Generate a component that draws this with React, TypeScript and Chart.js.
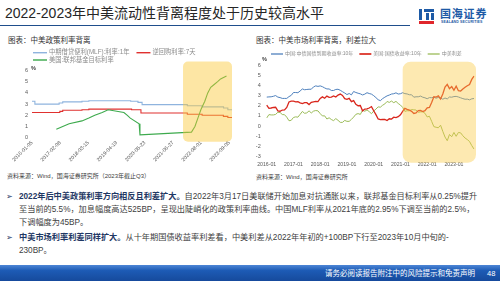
import React, { useEffect, useRef } from "react";
import { Chart, registerables } from "chart.js";

Chart.register(...registerables);

const FONT = '"Liberation Sans", "Noto Sans CJK SC", sans-serif';
Chart.defaults.font.family = FONT;

// ---------- Left chart: policy rates (change dates + new values) ----------
const LEFT_NAMES = ["中期借贷便利(MLF):利率:1年", "逆回购利率:7天", "美国:联邦基金目标利率"];
const MLF_DATES = ["2016-01-05", "2016-02-15", "2017-01-24", "2017-03-16", "2017-12-14", "2018-03-22", "2019-11-05", "2020-02-17", "2020-04-15", "2022-01-17", "2022-08-15", "2023-06-15", "2023-08-15", "2023-10-13"];
const MLF_VALUES = [3.25, 3.0, 3.1, 3.2, 3.25, 3.3, 3.25, 3.15, 2.95, 2.85, 2.75, 2.65, 2.5, 2.5];
const REPO_DATES = ["2016-01-05", "2017-02-03", "2017-03-16", "2017-12-14", "2018-03-22", "2019-11-18", "2020-03-30", "2022-01-17", "2022-08-15", "2023-06-13", "2023-08-15", "2023-10-13"];
const REPO_VALUES = [2.25, 2.35, 2.45, 2.5, 2.55, 2.5, 2.2, 2.1, 2.0, 1.9, 1.8, 1.8];
const FED_DATES = ["2016-12-15", "2017-03-16", "2017-06-15", "2017-12-14", "2018-03-22", "2018-06-14", "2018-09-27", "2018-12-20", "2019-08-01", "2019-09-19", "2019-10-31", "2020-03-04", "2020-03-16", "2022-03-17", "2022-05-05", "2022-06-16", "2022-07-28", "2022-09-22", "2022-11-03", "2022-12-15", "2023-02-02", "2023-03-23", "2023-05-04", "2023-07-27"];
const FED_VALUES = [0.75, 1.0, 1.25, 1.5, 1.75, 2.0, 2.25, 2.5, 2.25, 2.0, 1.75, 1.25, 0.25, 0.5, 1.0, 1.75, 2.5, 3.25, 4.0, 4.5, 4.75, 5.0, 5.25, 5.5];
const LEFT_TICK_LABELS = ["2016-01-05", "2017-02-08", "2018-03-15", "2019-04-19", "2020-05-23", "2021-06-27", "2022-08-01", "2023-09-05"];
const LEFT_RANGE = ["2016-01-05", "2023-10-13"];
const LEFT_HIGHLIGHT = { from: "2021-11-17", to: "2023-10-13", top: 6.8, bottom: -0.36 };

// ---------- Right chart: market rates, monthly from 2016-01 ----------
const RIGHT_NAMES = ["中国:中债国债到期收益率:10年", "美国:国债收益率:10年", "中美利差"];
const RIGHT_START_YEAR = 2016;
const CN10Y = [
  2.85, 2.87, 2.88, 2.93, 3.0, 2.85, 2.8, 2.72, 2.72, 2.72, 2.9, 3.02,
  3.3, 3.3, 3.28, 3.45, 3.65, 3.57, 3.6, 3.62, 3.62, 3.85, 3.95, 3.9,
  3.95, 3.87, 3.75, 3.65, 3.65, 3.5, 3.5, 3.6, 3.62, 3.52, 3.38, 3.25,
  3.1, 3.2, 3.07, 3.4, 3.3, 3.23, 3.17, 3.06, 3.14, 3.28, 3.2, 3.14,
  2.99, 2.8, 2.59, 2.5, 2.7, 2.84, 2.97, 3.05, 3.15, 3.18, 3.27, 3.15,
  3.18, 3.28, 3.19, 3.16, 3.08, 3.08, 2.84, 2.88, 2.88, 2.95, 2.84, 2.78,
  2.69, 2.8, 2.79, 2.84, 2.74, 2.82, 2.76, 2.64, 2.76, 2.67, 2.86, 2.84,
  2.9, 2.92, 2.86, 2.78, 2.7, 2.64, 2.65, 2.58, 2.68, 2.71,
];
const US10Y = [
  2.05, 1.74, 1.78, 1.83, 1.85, 1.49, 1.46, 1.58, 1.6, 1.84, 2.37, 2.45,
  2.45, 2.39, 2.4, 2.29, 2.21, 2.31, 2.3, 2.12, 2.33, 2.38, 2.42, 2.4,
  2.72, 2.87, 2.74, 2.95, 2.83, 2.85, 2.96, 2.86, 3.05, 3.15, 3.01, 2.69,
  2.63, 2.73, 2.41, 2.51, 2.14, 2.0, 2.02, 1.5, 1.68, 1.69, 1.78, 1.92,
  1.51, 1.13, 0.7, 0.64, 0.65, 0.66, 0.55, 0.72, 0.69, 0.88, 0.84, 0.93,
  1.11, 1.44, 1.74, 1.65, 1.58, 1.45, 1.24, 1.3, 1.52, 1.55, 1.43, 1.52,
  1.79, 1.83, 2.32, 2.89, 2.85, 2.98, 2.67, 3.15, 3.83, 4.1, 3.68, 3.88,
  3.52, 3.92, 3.48, 3.44, 3.64, 3.81, 3.97, 4.09, 4.59, 4.9,
];
const SPREAD = [
  0.8, 1.13, 1.1, 1.1, 1.15, 1.36, 1.34, 1.14, 1.12, 0.88, 0.53, 0.57,
  0.85, 0.91, 0.88, 1.16, 1.44, 1.26, 1.3, 1.5, 1.29, 1.47, 1.53, 1.5,
  1.23, 1.0, 1.01, 0.7, 0.82, 0.65, 0.54, 0.74, 0.57, 0.37, 0.37, 0.56,
  0.47, 0.47, 0.66, 0.89, 1.16, 1.23, 1.15, 1.56, 1.46, 1.59, 1.42, 1.22,
  1.48, 1.67, 1.89, 1.86, 2.05, 2.18, 2.42, 2.33, 2.46, 2.3, 2.43, 2.22,
  2.07, 1.84, 1.45, 1.51, 1.5, 1.63, 1.6, 1.58, 1.36, 1.4, 1.41, 1.26,
  0.9, 0.97, 0.47, -0.05, -0.11, -0.16, 0.09, -0.51, -1.07, -1.43, -0.82, -1.04,
  -0.62, -1.0, -0.62, -0.66, -0.94, -1.17, -1.32, -1.51, -1.91, -2.25,
];
const MONTHS = CN10Y.map((_, i) => `${RIGHT_START_YEAR + Math.floor(i / 12)}-${String((i % 12) + 1).padStart(2, "0")}`);
const RIGHT_HIGHLIGHT = { from: "2021-02", to: "2023-10", top: 6.32, bottom: -3.59 };

const ts = (d: string) => Date.parse(d + "T00:00:00Z");
const pairs = (dates: string[], vals: number[]) => dates.map((d, i) => ({ x: ts(d), y: vals[i] }));

function highlightPlugin(getX: (c: any) => [number, number], top: number, bottom: number, color: string, radius: number, padR: number) {
  return {
    id: "hl",
    afterDatasetsDraw(chart: any) {
      const ctx = chart.ctx;
      const [x0, x1] = getX(chart);
      const ys = chart.scales.y;
      const l = x0;
      const r = x1 + padR;
      const t = ys.getPixelForValue(top);
      const b = ys.getPixelForValue(bottom);
      ctx.save();
      ctx.fillStyle = color;
      ctx.beginPath();
      if (ctx.roundRect) ctx.roundRect(l, t, r - l, b - t, radius);
      else ctx.rect(l, t, r - l, b - t);
      ctx.fill();
      ctx.restore();
    },
  };
}

function legendPlugin(rows: number[][], x: number, y: number, rowGap: number, lineLen: number, size: number, gap: number) {
  return {
    id: "miniLegend",
    afterDraw(chart: any) {
      const ctx = chart.ctx;
      ctx.save();
      ctx.font = `${size}px ${FONT}`;
      ctx.textBaseline = "middle";
      rows.forEach((row, ri) => {
        let cx = x;
        const cy = y + ri * rowGap;
        row.forEach((di) => {
          const ds = chart.data.datasets[di];
          ctx.strokeStyle = ds.borderColor;
          ctx.lineWidth = (ds.borderWidth || 1) * 1.3;
          ctx.beginPath();
          ctx.moveTo(cx, cy);
          ctx.lineTo(cx + lineLen, cy);
          ctx.stroke();
          cx += lineLen + 2;
          ctx.fillStyle = "#8c8c8c";
          ctx.fillText(ds.label, cx, cy);
          cx += ctx.measureText(ds.label).width + gap;
        });
      });
      ctx.restore();
    },
  };
}

function unitPlugin(x: number, y: number) {
  return {
    id: "unit",
    afterDraw(chart: any) {
      const ctx = chart.ctx;
      ctx.save();
      ctx.font = `bold 5.5px ${FONT}`;
      ctx.fillStyle = "#404040";
      ctx.textBaseline = "middle";
      ctx.fillText("%", x, y);
      ctx.restore();
    },
  };
}

const tickFont = { size: 5.5 };
const tickColor = "#595959";

function LeftChart() {
  const ref = useRef<HTMLCanvasElement>(null);
  useEffect(() => {
    const W = 245, H = 124, TOP = 46;
    const chart = new Chart(ref.current as HTMLCanvasElement, {
      type: "line",
      data: {
        datasets: [
          { label: LEFT_NAMES[0], data: pairs(MLF_DATES, MLF_VALUES), borderColor: "#8fb4de", borderWidth: 1.1, pointRadius: 0, stepped: "before", order: 2 },
          { label: LEFT_NAMES[1], data: pairs(REPO_DATES, REPO_VALUES), borderColor: "#e0312f", borderWidth: 1.1, pointRadius: 0, stepped: "before", order: 1 },
          { label: LEFT_NAMES[2], data: pairs(FED_DATES, FED_VALUES), borderColor: "#3daa4d", borderWidth: 1.1, pointRadius: 0, order: 0 },
        ] as any,
      },
      options: {
        responsive: false,
        animation: false,
        layout: { padding: { top: 70.5 - TOP, right: W - 232, left: 0, bottom: 0 } },
        plugins: { legend: { display: false }, tooltip: { enabled: false } },
        scales: {
          x: {
            type: "linear",
            min: ts(LEFT_RANGE[0]),
            max: ts(LEFT_RANGE[1]),
            afterBuildTicks: (s: any) => { s.ticks = LEFT_TICK_LABELS.map((d) => ({ value: ts(d) })); },
            afterFit: (s: any) => { s.height = H - (137.7 - TOP); },
            ticks: {
              autoSkip: false,
              minRotation: 45,
              maxRotation: 45,
              padding: 2,
              font: { size: 5.2 },
              color: tickColor,
              callback: (v: any) => new Date(v).toISOString().slice(0, 10),
            },
            grid: { display: false, drawTicks: false },
            border: { display: false },
          },
          y: {
            min: 0,
            max: 6,
            afterFit: (s: any) => { s.width = 32; },
            ticks: { stepSize: 1, font: tickFont, color: tickColor, padding: 4 },
            grid: { display: false, drawTicks: false },
            border: { display: false },
          },
        },
      } as any,
      plugins: [
        highlightPlugin((c) => [c.scales.x.getPixelForValue(ts(LEFT_HIGHLIGHT.from)), c.scales.x.getPixelForValue(ts(LEFT_HIGHLIGHT.to))], LEFT_HIGHLIGHT.top, LEFT_HIGHLIGHT.bottom, "rgba(251,199,53,0.45)", 5, 0),
        legendPlugin([[0, 1], [2]], 33, 52.7 - TOP, 7.3, 14, 6.3, 7),
        unitPlugin(31, 68 - TOP),
      ] as any,
    });
    return () => chart.destroy();
  }, []);
  return <canvas ref={ref} width={245} height={124} style={{ position: "absolute", left: 0, top: 46, width: 245, height: 124 }} />;
}

function RightChart() {
  const ref = useRef<HTMLCanvasElement>(null);
  useEffect(() => {
    const W = 250, H = 125, TOP = 46, LEFT = 250;
    const chart = new Chart(ref.current as HTMLCanvasElement, {
      type: "line",
      data: {
        labels: MONTHS,
        datasets: [
          { label: RIGHT_NAMES[0], data: CN10Y, borderColor: "#4f81bd", borderWidth: 1, pointRadius: 0, order: 1 },
          { label: RIGHT_NAMES[1], data: US10Y, borderColor: "#d9261c", borderWidth: 1.3, pointRadius: 0, order: 0 },
          { label: RIGHT_NAMES[2], data: SPREAD, borderColor: "#9bbb59", borderWidth: 1, pointRadius: 0, order: 2 },
        ],
      },
      options: {
        responsive: false,
        animation: false,
        layout: { padding: { top: 65 - TOP, right: W - (474 - LEFT), left: 0, bottom: 0 } },
        plugins: { legend: { display: false }, tooltip: { enabled: false } },
        scales: {
          x: {
            type: "category",
            afterFit: (s: any) => { s.height = H - (156.7 - TOP); },
            ticks: {
              autoSkip: false,
              maxRotation: 0,
              minRotation: 0,
              padding: 4.5,
              font: { size: 5.2 },
              color: tickColor,
              callback: (_v: any, i: number) => (MONTHS[i].endsWith("-01") ? MONTHS[i] : ""),
            },
            grid: { display: false, drawTicks: false },
            border: { display: false },
          },
          y: {
            min: -3,
            max: 6,
            afterFit: (s: any) => { s.width = 266.7 - LEFT; },
            ticks: { stepSize: 1, font: tickFont, color: tickColor, padding: 6 },
            grid: { display: false, drawTicks: false },
            border: { display: false },
          },
        },
      } as any,
      plugins: [
        highlightPlugin((c) => [c.scales.x.getPixelForValue(MONTHS.indexOf(RIGHT_HIGHLIGHT.from)), c.scales.x.getPixelForValue(MONTHS.indexOf(RIGHT_HIGHLIGHT.to))], RIGHT_HIGHLIGHT.top, RIGHT_HIGHLIGHT.bottom, "rgba(251,203,70,0.42)", 8, 2),
        legendPlugin([[0, 1, 2]], 271 - LEFT, 54 - TOP, 0, 12, 5.0, 6),
        unitPlugin(262 - LEFT, 59 - TOP),
      ] as any,
    });
    return () => chart.destroy();
  }, []);
  return <canvas ref={ref} width={250} height={125} style={{ position: "absolute", left: 250, top: 46, width: 250, height: 125 }} />;
}

const abs = (s: React.CSSProperties): React.CSSProperties => ({ position: "absolute", whiteSpace: "nowrap", ...s });
const BOLD = "#1f3864";
const BODY = "#404040";

export default function App() {
  return (
    <div style={{ position: "absolute", left: 0, top: 0, width: 500, height: 281, overflow: "hidden", background: "#fff", fontFamily: FONT }}>
      <div style={abs({ left: 5, top: 4, fontSize: 14, lineHeight: "18px", color: "#262626" })}>2022-2023年中美流动性背离程度处于历史较高水平</div>
      <div style={abs({ left: 0, top: 24.5, width: 410, height: 1.5, background: "#1f4e8c" })} />
      {/* logo */}
      <div style={abs({ left: 419, top: 9, width: 3, height: 11, background: "#1d5aa6" })} />
      <div style={abs({ left: 423.5, top: 9, width: 10, height: 2.5, background: "#1d5aa6" })} />
      <div style={abs({ left: 426, top: 13, width: 2.5, height: 7, background: "#1d5aa6" })} />
      <div style={abs({ left: 430.5, top: 13, width: 3, height: 7, background: "#1d5aa6" })} />
      <div style={abs({ left: 419, top: 21, width: 15, height: 2.5, background: "#e0262b" })} />
      <div style={abs({ left: 440, top: 7.5, fontSize: 11, lineHeight: "13px", fontWeight: 700, color: "#1d5aa6", letterSpacing: 0.8 })}>国海证券</div>
      <div style={abs({ left: 441, top: 20, fontSize: 7, lineHeight: "8px", fontWeight: 700, color: "#1d5aa6", transform: "scale(0.5)", transformOrigin: "left top", letterSpacing: 0.3 })}>SEALAND SECURITIES</div>

      <div style={abs({ left: 8, top: 35.5, fontSize: 7.5, lineHeight: "9px", color: "#333" })}>图表：中美政策利率背离</div>
      <div style={abs({ left: 256, top: 35.5, fontSize: 7.5, lineHeight: "9px", color: "#333" })}>图表：中美市场利率背离，利差拉大</div>

      <LeftChart />
      <RightChart />

      <div style={abs({ left: 7, top: 172, fontSize: 6, lineHeight: "8px", color: BODY })}>资料来源：Wind，国海证券研究所（2023年截止Q3）</div>
      <div style={abs({ left: 256, top: 173, fontSize: 6, lineHeight: "8px", color: BODY })}>资料来源：Wind，国海证券研究所</div>

      <div style={abs({ left: 6, top: 189.5, fontSize: 8, lineHeight: "13px", color: BOLD, fontFamily: '"DejaVu Sans", sans-serif' })}>➢</div>
      <div style={abs({ left: 19, top: 189.5, fontSize: 8.2, lineHeight: "13px", color: BODY })}>
        <span style={{ fontWeight: 700, color: BOLD }}>2022年后中美政策利率方向相反且利差扩大。</span>自2022年3月17日美联储开始加息对抗通胀以来，联邦基金目标利率从0.25%提升<br />
        至当前的5.5%，加息幅度高达525BP，呈现出陡峭化的政策利率曲线。中国MLF利率从2021年底的2.95%下调至当前的2.5%，<br />
        下调幅度为45BP。
      </div>
      <div style={abs({ left: 6, top: 231, fontSize: 8, lineHeight: "13px", color: BOLD, fontFamily: '"DejaVu Sans", sans-serif' })}>➢</div>
      <div style={abs({ left: 19, top: 231, fontSize: 8.2, lineHeight: "13px", color: BODY })}>
        <span style={{ fontWeight: 700, color: BOLD }}>中美市场利率利差同样扩大。</span>从十年期国债收益率利差看，中美利差从2022年年初的+100BP下行至2023年10月中旬的-<br />
        230BP。
      </div>

      <div style={abs({ left: 0, top: 265, width: 500, height: 16, background: "linear-gradient(180deg, #4d86d6 0%, #1d5bb5 35%, #164a9c 100%)" })} />
      <div style={abs({ right: 25, top: 268.5, fontSize: 7.5, lineHeight: "10px", color: "#fff" })}>请务必阅读报告附注中的风险提示和免责声明</div>
      <div style={abs({ left: 487, top: 268.5, fontSize: 7.5, lineHeight: "10px", color: "#fff" })}>48</div>
    </div>
  );
}
